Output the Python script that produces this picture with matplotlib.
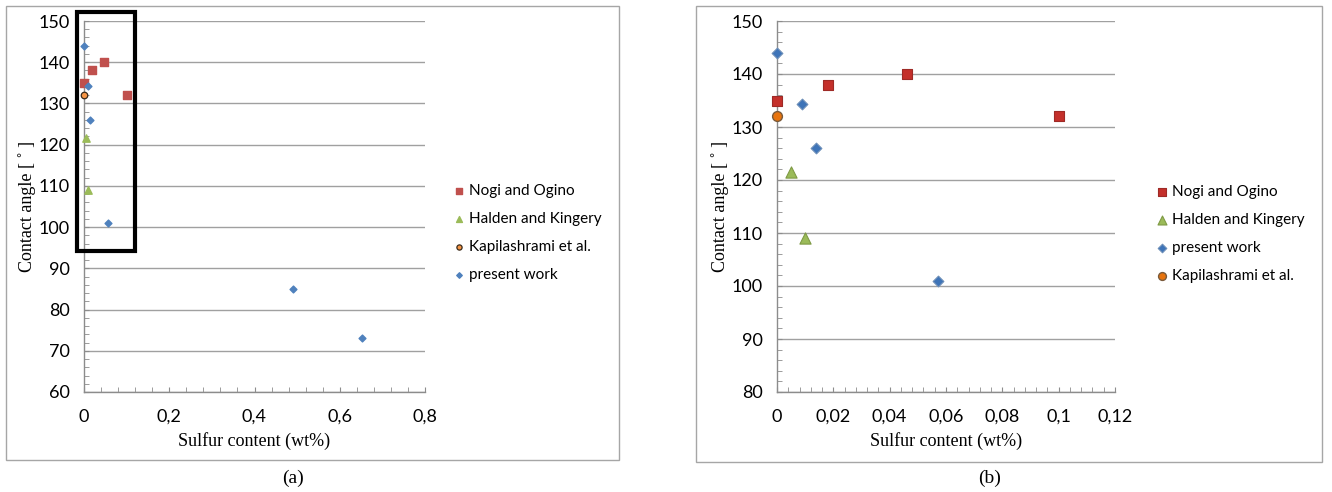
import matplotlib
matplotlib.use("Agg")
import matplotlib.pyplot as plt
from matplotlib.patches import Rectangle
from matplotlib.ticker import MultipleLocator, FuncFormatter

# data
nogi_x = [0.0, 0.018, 0.046, 0.1]
nogi_y = [135, 138, 140, 132]
halden_x = [0.005, 0.01]
halden_y = [121.5, 109]
kapil_x = [0.0]
kapil_y = [132]
present_x = [0.0, 0.009, 0.014, 0.057, 0.49, 0.652]
present_y = [144, 134.3, 126, 101, 85, 73]
present_zoom = 4  # number of present-work points inside the zoomed range

RED = "#C0504D"
GREEN = "#9BBB59"
BLUE = "#4F81BD"
ORANGE = "#F79646"

W, H = 1332, 492
TICK_FONT = "Lato"
SERIF = "Liberation Serif"


def comma(v, pos):
    s = ("%g" % round(v, 6)).replace(".", ",")
    return s


def style_axes(ax, xmax, xstep, xminor, ymin, ymax):
    ax.set_xlim(0, xmax)
    ax.set_ylim(ymin, ymax)
    ax.xaxis.set_major_locator(MultipleLocator(xstep))
    ax.xaxis.set_minor_locator(MultipleLocator(xminor))
    ax.yaxis.set_major_locator(MultipleLocator(10))
    ax.yaxis.set_minor_locator(MultipleLocator(2))
    ax.xaxis.set_major_formatter(FuncFormatter(comma))
    for s in ["top", "right"]:
        ax.spines[s].set_visible(False)
    for s in ["left", "bottom"]:
        ax.spines[s].set_color("#8C8C8C")
        ax.spines[s].set_linewidth(1)
    ax.grid(axis="y", color="#A0A0A0", lw=1)
    ax.set_axisbelow(True)
    ax.tick_params(which="both", direction="in", length=3.5, color="#8C8C8C")
    ax.tick_params(axis="x", which="major", pad=12, labelsize=13)
    ax.tick_params(axis="y", which="major", pad=10, labelsize=13)
    for lab in ax.get_xticklabels() + ax.get_yticklabels():
        lab.set_fontfamily(TICK_FONT)
    ax.set_xlabel("Sulfur content (wt%)", fontfamily=SERIF, fontsize=13, labelpad=5)
    ax.set_ylabel("Contact angle [ ˚ ]", fontfamily=SERIF, fontsize=13, labelpad=2)


def add_legend(ax, x_px, y_px):
    ax.legend(loc="center left", bbox_to_anchor=(x_px / W, 1 - y_px / H),
              bbox_transform=fig.transFigure, frameon=False, borderpad=0, borderaxespad=0,
              prop={"family": TICK_FONT, "size": 11}, handletextpad=0.2,
              labelspacing=0.9, handlelength=1.0, markerscale=0.8)


fig = plt.figure(figsize=(W / 100, H / 100), dpi=100)

# outer frames of the two panels
fig.patches.append(Rectangle((6 / W, 1 - 460 / H), 613 / W, 454 / H, transform=fig.transFigure,
                             fill=False, ec="#A6A6A6", lw=1))
fig.patches.append(Rectangle((696 / W, 1 - 462 / H), 626 / W, 456 / H, transform=fig.transFigure,
                             fill=False, ec="#A6A6A6", lw=1))

bottom = 1 - 392 / H
height = (392 - 21) / H

# panel (a)
ax1 = fig.add_axes([84 / W, bottom, 341 / W, height])
ax1.scatter(nogi_x, nogi_y, marker="s", s=26, color=RED, label="Nogi and Ogino",
            zorder=3, clip_on=False)
ax1.scatter(halden_x, halden_y, marker="^", s=28, color=GREEN, label="Halden and Kingery",
            zorder=3, clip_on=False)
ax1.scatter(kapil_x, kapil_y, marker="o", s=22, color=ORANGE, ec="#3A2A1A", lw=0.9,
            label="Kapilashrami et al.", zorder=3, clip_on=False)
ax1.scatter(present_x, present_y, marker="D", s=12, color=BLUE, label="present work",
            zorder=3, clip_on=False)
style_axes(ax1, 0.8, 0.2, 0.04, 60, 150)
ax1.add_patch(Rectangle((-0.0164, 94.2), 0.136, 58.0, fill=False, ec="black", lw=3,
                        clip_on=False, zorder=5))
add_legend(ax1, 451, 233)

# panel (b)
ax2 = fig.add_axes([777 / W, bottom, 338 / W, height])
ax2.scatter(nogi_x, nogi_y, marker="s", s=62, color="#C4302B", ec="#9E2A26", lw=0.8,
            label="Nogi and Ogino", zorder=3, clip_on=False)
ax2.scatter(halden_x, halden_y, marker="^", s=65, color=GREEN, ec="#7F9A45", lw=0.8,
            label="Halden and Kingery", zorder=3, clip_on=False)
ax2.scatter(present_x[:present_zoom], present_y[:present_zoom], marker="D", s=30, color="#3E74B8",
            ec="#6E8FB8", lw=0.8, label="present work", zorder=3, clip_on=False)
ax2.scatter(kapil_x, kapil_y, marker="o", s=50, color="#E8740E", ec="#7A5A3A", lw=1,
            label="Kapilashrami et al.", zorder=3, clip_on=False)
style_axes(ax2, 0.12, 0.02, 0.004, 80, 150)
add_legend(ax2, 1154, 234)

fig.text(293 / W, 1 - 478 / H, "(a)", ha="center", va="center", fontfamily=SERIF, fontsize=14)
fig.text(990 / W, 1 - 478 / H, "(b)", ha="center", va="center", fontfamily=SERIF, fontsize=14)

fig.savefig("out.png", dpi=100)
